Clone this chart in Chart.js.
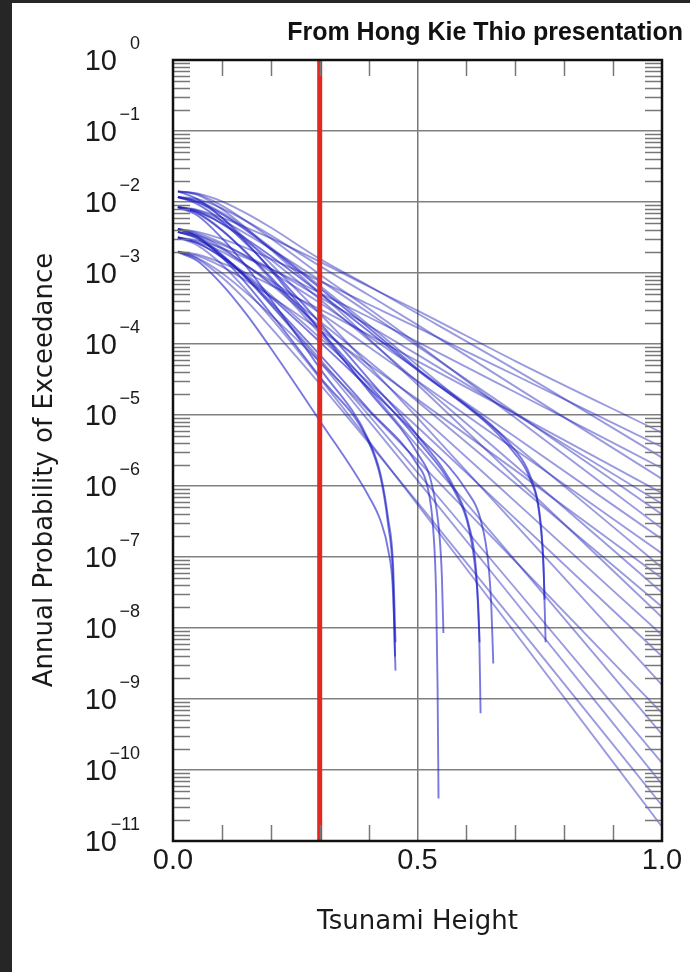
<!DOCTYPE html>
<html>
<head>
<meta charset="utf-8">
<script src="https://cdn.jsdelivr.net/npm/chart.js@4.4.1/dist/chart.umd.min.js"></script>
<style>
  html,body{margin:0;padding:0;background:#262626;}
  #sheet{position:absolute;left:12px;top:3px;width:678px;height:969px;background:#fff;}
  #wrap{position:absolute;left:0;top:0;width:690px;height:972px;}
  #source{position:absolute;right:7px;top:17px;line-height:30px;font:bold 25px "Liberation Sans",Arial,sans-serif;color:#111;white-space:nowrap;}
</style>
</head>
<body>
<div id="sheet"></div>
<div id="wrap"><canvas id="chart"></canvas></div>
<div id="source">From Hong Kie Thio presentation</div>
<script>
// exceedance curves, values are log10 of annual probability
const heightGrid = [0.01, 0.05, 0.1, 0.15, 0.2, 0.3, 0.4, 0.5, 0.7, 1.0];
const fullCurves = [
  [-2.07,-2.11,-2.22,-2.36,-2.51,-2.84,-3.19,-3.53,-4.24,-5.25],
  [-2.38,-2.42,-2.52,-2.65,-2.80,-3.11,-3.44,-3.77,-4.44,-5.45],
  [-1.85,-1.88,-1.99,-2.16,-2.36,-2.80,-3.18,-3.57,-4.36,-5.60],
  [-2.50,-2.54,-2.65,-2.79,-2.94,-3.28,-3.62,-3.97,-4.68,-5.75],
  [-1.93,-1.96,-2.09,-2.27,-2.47,-2.90,-3.31,-3.73,-4.60,-5.90],
  [-2.70,-2.74,-2.86,-3.00,-3.17,-3.51,-3.87,-4.24,-4.98,-6.10],
  [-2.42,-2.47,-2.60,-2.76,-2.94,-3.34,-3.74,-4.15,-4.99,-6.25],
  [-2.07,-2.12,-2.26,-2.45,-2.66,-3.10,-3.56,-4.03,-4.97,-6.40],
  [-1.85,-1.89,-2.05,-2.27,-2.51,-3.02,-3.50,-4.00,-5.04,-6.60],
  [-2.38,-2.44,-2.58,-2.77,-2.98,-3.42,-3.89,-4.36,-5.31,-6.75],
  [-2.50,-2.56,-2.70,-2.90,-3.11,-3.56,-4.04,-4.52,-5.49,-6.95],
  [-1.93,-1.98,-2.15,-2.38,-2.64,-3.18,-3.73,-4.30,-5.43,-7.15],
  [-2.70,-2.76,-2.91,-3.11,-3.33,-3.80,-4.29,-4.78,-5.78,-7.30],
  [-2.07,-2.13,-2.31,-2.55,-2.81,-3.37,-3.94,-4.53,-5.71,-7.50],
  [-2.42,-2.49,-2.66,-2.89,-3.14,-3.68,-4.24,-4.81,-5.96,-7.70],
  [-1.85,-1.90,-2.10,-2.37,-2.67,-3.28,-3.92,-4.57,-5.88,-7.85],
  [-2.38,-2.46,-2.64,-2.89,-3.16,-3.75,-4.35,-4.97,-6.22,-8.10],
  [-2.50,-2.58,-2.77,-3.02,-3.31,-3.91,-4.54,-5.17,-6.46,-8.40],
  [-1.93,-2.00,-2.22,-2.53,-2.87,-3.57,-4.30,-5.04,-6.54,-8.80],
  [-2.70,-2.79,-3.00,-3.28,-3.59,-4.25,-4.94,-5.64,-7.06,-9.20],
  [-2.07,-2.15,-2.39,-2.72,-3.09,-3.85,-4.63,-5.44,-7.05,-9.50],
  [-2.42,-2.52,-2.76,-3.08,-3.44,-4.21,-5.00,-5.81,-7.44,-9.90],
  [-2.38,-2.48,-2.74,-3.07,-3.45,-4.25,-5.08,-5.92,-7.63,-10.20],
  [-2.70,-2.80,-3.06,-3.39,-3.77,-4.56,-5.39,-6.23,-7.93,-10.50],
  [-2.50,-2.61,-2.88,-3.24,-3.63,-4.48,-5.36,-6.26,-8.07,-10.80]
];
// curves that end in a sharp drop (maximum height of the source)
const cutHeights = [
  [0.01,0.05,0.1,0.15,0.2,0.3,0.4,0.425,0.44,0.45,0.454],
  [0.01,0.05,0.1,0.15,0.2,0.3,0.4,0.425,0.44,0.45,0.455],
  [0.01,0.05,0.1,0.15,0.2,0.3,0.4,0.425,0.44,0.45,0.455],
  [0.01,0.05,0.1,0.15,0.2,0.3,0.4,0.5,0.52,0.532,0.538,0.541,0.543],
  [0.01,0.05,0.1,0.15,0.2,0.3,0.4,0.5,0.53,0.545,0.55,0.553],
  [0.01,0.05,0.1,0.15,0.2,0.3,0.4,0.5,0.58,0.605,0.62,0.626,0.629],
  [0.01,0.05,0.1,0.15,0.2,0.3,0.4,0.5,0.58,0.605,0.62,0.627],
  [0.01,0.05,0.1,0.15,0.2,0.3,0.4,0.5,0.6,0.63,0.645,0.651,0.655],
  [0.01,0.05,0.1,0.15,0.2,0.3,0.4,0.5,0.7,0.73,0.75,0.758,0.762],
  [0.01,0.05,0.1,0.15,0.2,0.3,0.4,0.5,0.7,0.73,0.75,0.757,0.76]
];
const cutCurves = [
  [-2.38,-2.49,-2.78,-3.15,-3.57,-4.46,-5.38,-5.90,-6.55,-7.30,-8.40],
  [-2.08,-2.19,-2.51,-2.91,-3.37,-4.34,-5.35,-5.85,-6.46,-7.10,-8.20],
  [-2.71,-2.83,-3.16,-3.58,-4.06,-5.08,-6.14,-6.50,-6.90,-7.50,-8.60],
  [-2.42,-2.51,-2.75,-3.06,-3.41,-4.15,-4.92,-5.70,-6.00,-6.60,-7.50,-8.80,-10.40],
  [-1.85,-1.96,-2.22,-2.57,-2.96,-3.80,-4.66,-5.54,-6.00,-6.70,-7.30,-8.07],
  [-2.07,-2.16,-2.40,-2.71,-3.06,-3.80,-4.57,-5.35,-6.13,-6.60,-7.30,-8.00,-9.20],
  [-1.93,-2.03,-2.27,-2.59,-2.94,-3.70,-4.49,-5.29,-6.09,-6.55,-7.20,-8.20],
  [-2.50,-2.58,-2.78,-3.05,-3.34,-3.97,-4.62,-5.29,-6.06,-6.50,-7.10,-7.70,-8.50],
  [-1.93,-2.00,-2.17,-2.40,-2.66,-3.21,-3.77,-4.35,-5.55,-5.90,-6.45,-7.20,-8.20],
  [-2.07,-2.14,-2.30,-2.52,-2.76,-3.28,-3.82,-4.37,-5.50,-5.85,-6.40,-7.00,-7.60]
];
const markHeight = 0.3;
const xTicks = [0, 0.5, 1.0];
const xMinor = [0.1, 0.2, 0.3, 0.4, 0.6, 0.7, 0.8, 0.9];
const decades = [0, -1, -2, -3, -4, -5, -6, -7, -8, -9, -10, -11];
const minorMult = [2, 3, 4, 5, 6, 7, 8, 9];
const yTitle = 'Annual Probability of Exceedance';

const curveColor = 'rgba(30,30,185,0.45)';
const cutColor = 'rgba(30,30,200,0.6)';
let datasets = [];
datasets.push({
  data: [{x: markHeight, y: 1}, {x: markHeight, y: 1e-11}],
  borderColor: '#e3281e', borderWidth: 5, pointRadius: 0, order: -1
});
fullCurves.forEach(c => datasets.push({
  data: c.map((e, i) => ({x: heightGrid[i], y: Math.pow(10, e)})),
  borderColor: curveColor, borderWidth: 1.9, pointRadius: 0, cubicInterpolationMode: 'monotone'
}));
cutCurves.forEach((c, k) => datasets.push({
  data: c.map((e, i) => ({x: cutHeights[k][i], y: Math.pow(10, e)})),
  borderColor: cutColor, borderWidth: 1.9, pointRadius: 0, cubicInterpolationMode: 'monotone'
}));

const framePlugin = {
  id: 'frame',
  afterDraw(chart) {
    const {ctx, chartArea: a, scales: {x, y}} = chart;
    ctx.save();
    ctx.strokeStyle = '#777';
    ctx.lineWidth = 1.5;
    ctx.beginPath();
    decades.slice(1).forEach(e => minorMult.forEach(m => {
      let py = Math.round(y.getPixelForValue(m * Math.pow(10, e))) + 0.5;
      ctx.moveTo(a.left, py); ctx.lineTo(a.left + 17, py);
      ctx.moveTo(a.right - 17, py); ctx.lineTo(a.right, py);
    }));
    xMinor.forEach(t => {
      let px = Math.round(x.getPixelForValue(t)) + 0.5;
      ctx.moveTo(px, a.top); ctx.lineTo(px, a.top + 16);
      ctx.moveTo(px, a.bottom); ctx.lineTo(px, a.bottom - 16);
    });
    ctx.stroke();
    ctx.strokeStyle = '#111';
    ctx.lineWidth = 2.5;
    ctx.strokeRect(a.left, a.top, a.right - a.left, a.bottom - a.top);
    // y tick labels 10^n
    ctx.fillStyle = '#1a1a1a';
    ctx.textAlign = 'right';
    ctx.textBaseline = 'middle';
    decades.forEach(e => {
      let py = y.getPixelForValue(Math.pow(10, e));
      ctx.font = '29px "Liberation Sans", Arial, sans-serif';
      ctx.fillText('10', 117, py + 2);
      ctx.font = '18px "Liberation Sans", Arial, sans-serif';
      ctx.fillText(e === 0 ? '0' : '\u2212' + (-e), 140, py - 16);
    });
    // y axis title
    ctx.translate(45, 470);
    ctx.rotate(-Math.PI / 2);
    ctx.textAlign = 'center';
    ctx.font = '26px "DejaVu Sans", sans-serif';
    ctx.fillText(yTitle, 0, 0);
    ctx.restore();
  }
};

new Chart(document.getElementById('chart'), {
  type: 'line',
  data: {datasets: datasets},
  options: {
    responsive: true, maintainAspectRatio: false, animation: false,
    layout: {padding: {left: 0, top: 60, right: 28, bottom: 0}},
    plugins: {legend: {display: false}, tooltip: {enabled: false}},
    scales: {
      x: {
        type: 'linear', min: 0, max: 1,
        afterBuildTicks: s => { s.ticks = xTicks.map(v => ({value: v})); },
        afterFit: s => { s.height = 131; },
        border: {display: false},
        grid: {drawTicks: false, lineWidth: 1.5, color: c => c.tick && c.tick.value === 0.5 ? '#777' : 'rgba(0,0,0,0)'},
        ticks: {padding: 3, color: '#1a1a1a', font: {family: '"Liberation Sans", Arial, sans-serif', size: 29}, callback: v => v.toFixed(1), maxRotation: 0},
        title: {display: true, text: 'Tsunami Height', color: '#1a1a1a', font: {family: '"DejaVu Sans", sans-serif', size: 26}, padding: {top: 0, bottom: 34}}
      },
      y: {
        type: 'logarithmic', min: 1e-11, max: 1,
        afterBuildTicks: s => { s.ticks = decades.map(e => ({value: Math.pow(10, e)})); },
        afterFit: s => { s.width = 173; },
        border: {display: false},
        grid: {drawTicks: false, lineWidth: 1.5, color: '#808080'},
        ticks: {display: false},
        title: {display: false}
      }
    }
  },
  plugins: [framePlugin]
});
</script>
</body>
</html>
